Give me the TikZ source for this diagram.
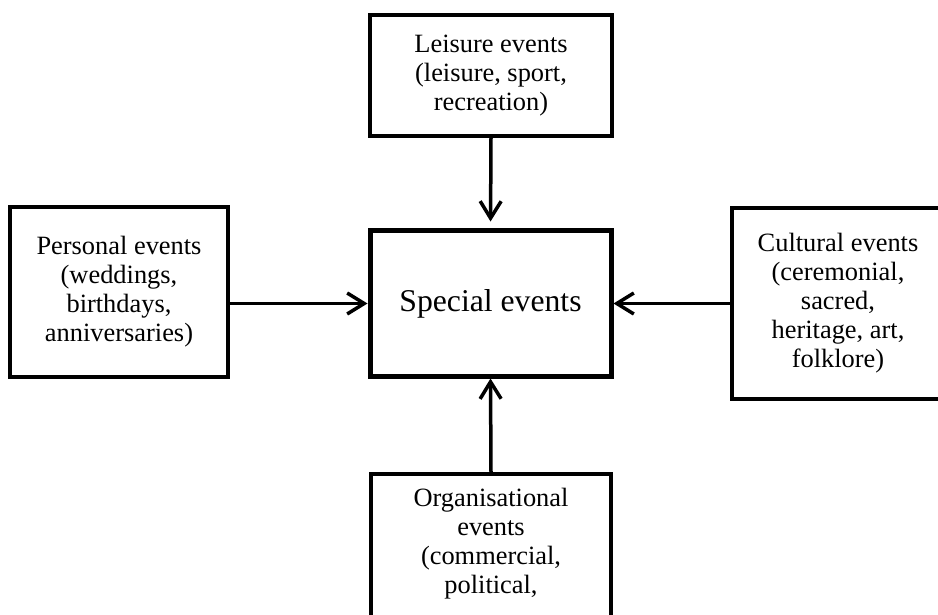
\documentclass[tikz,border=0pt]{standalone}
\usepackage{fontspec}
\setmainfont{Liberation Serif}
\usetikzlibrary{arrows.meta}
\tikzset{
  box/.style={draw=black, line width=4pt, fill=white, inner sep=0pt, align=center,
    font=\fontsize{26.4}{29}\selectfont},
  mainbox/.style={box, line width=5pt, font=\fontsize{31.7}{36}\selectfont},
  txt/.style={inner sep=0pt, align=center, font=\fontsize{26.4}{29}\selectfont},
  conn/.style={line width=3.5pt, -{Straight Barb[length=17pt,width=21pt,line width=3.5pt]}}
}
\begin{document}
\begin{tikzpicture}[x=1pt,y=-1pt]
\useasboundingbox (0,0) rectangle (938,615);
\clip (0,0) rectangle (938,615);
\fill[white] (0,0) rectangle (938,615);
\node[mainbox, minimum width=241pt, minimum height=145pt] (spec) at (490.5,303.5) {Special events};
\node[box, minimum width=242pt, minimum height=121pt] (leis) at (491,75.5) {Leisure events\\(leisure, sport,\\recreation)};
\node[box, minimum width=218pt, minimum height=170pt] (pers) at (119,292) {Personal events\\(weddings,\\birthdays,\\anniversaries)};
\node[box, minimum width=212pt, minimum height=191pt] (cult) at (838,303.5) {Cultural events\\(ceremonial,\\sacred,\\heritage, art,\\folklore)};
\node[box, minimum width=240pt, minimum height=220pt, anchor=north] (org) at (491,472) {};
\node[txt, anchor=north] (orgtext) at (491,488) {Organisational\\events\\(commercial,\\political,};
\draw[conn, shorten >=7pt] (leis.south) -- (spec.north);
\draw[conn] (pers.east |- spec.west) -- (spec.west);
\draw[conn] (cult.west |- spec.east) -- (spec.east);
\draw[conn] (org.north) -- (spec.south);
\end{tikzpicture}
\end{document}
